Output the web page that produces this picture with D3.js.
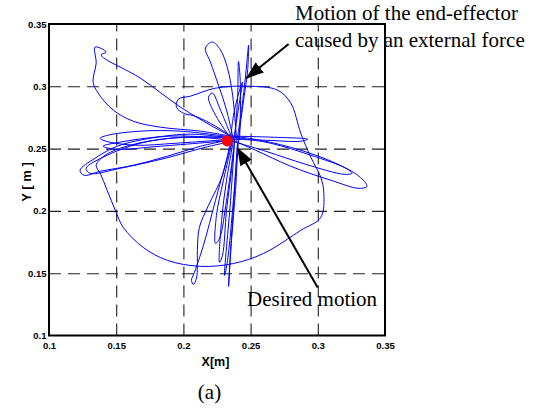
<!DOCTYPE html>
<html>
<head>
<meta charset="utf-8">
<script src="https://cdn.jsdelivr.net/npm/d3@7/dist/d3.min.js"></script>
<style>
  body { margin: 0; background: #fff; }
  svg { display: block; }
</style>
</head>
<body>
<div id="chart"></div>
<script>
// Axis ticks
const xTicks = [0.1, 0.15, 0.2, 0.25, 0.3, 0.35];
const yTicks = [0.1, 0.15, 0.2, 0.25, 0.3, 0.35];
const xTickLabels = ['0.1', '0.15', '0.2', '0.25', '0.3', '0.35'];
const yTickLabels = ['0.1', '0.15', '0.2', '0.25', '0.3', '0.35'];

const bigLoop = [
  [0.2366, 0.2592], [0.2239, 0.2680], [0.2089, 0.2760], [0.2000, 0.2784], [0.1948, 0.2833],
  [0.1963, 0.2897], [0.2052, 0.2921], [0.2239, 0.2985], [0.2478, 0.3001], [0.2701, 0.2969],
  [0.2799, 0.2865], [0.2873, 0.2624], [0.2948, 0.2431], [0.3022, 0.2270], [0.3045, 0.2141],
  [0.3022, 0.1948], [0.2873, 0.1844], [0.2597, 0.1659], [0.2373, 0.1578], [0.2127, 0.1555],
  [0.1881, 0.1603], [0.1701, 0.1707], [0.1552, 0.1868], [0.1493, 0.2005], [0.1433, 0.2165],
  [0.1381, 0.2302], [0.1351, 0.2366], [0.1418, 0.2447], [0.1604, 0.2527], [0.1903, 0.2583],
  [0.2351, 0.2592]
];
const topLeftLoop = [
  [0.2351, 0.2600], [0.2127, 0.2640], [0.1828, 0.2672], [0.1627, 0.2720], [0.1478, 0.2809],
  [0.1366, 0.2945], [0.1328, 0.3034], [0.1351, 0.3186], [0.1343, 0.3315], [0.1425, 0.3275],
  [0.1388, 0.3251], [0.1679, 0.3066], [0.1978, 0.2833], [0.2201, 0.2688], [0.2366, 0.2592]
];
const leftLoopA = [
  [0.2366, 0.2583], [0.2052, 0.2616], [0.1754, 0.2583], [0.1507, 0.2519], [0.1343, 0.2423],
  [0.1231, 0.2326], [0.1261, 0.2286], [0.1381, 0.2318], [0.1627, 0.2366], [0.1881, 0.2439],
  [0.2127, 0.2519], [0.2366, 0.2575]
];
const leftLoopB = [
  [0.2366, 0.2567], [0.2015, 0.2592], [0.1679, 0.2543], [0.1418, 0.2439], [0.1276, 0.2342],
  [0.1306, 0.2302], [0.1530, 0.2342], [0.1866, 0.2423], [0.2164, 0.2511], [0.2366, 0.2559]
];
const leftLoopC = [
  [0.2366, 0.2592], [0.1978, 0.2640], [0.1679, 0.2640], [0.1440, 0.2608], [0.1381, 0.2583],
  [0.1425, 0.2559], [0.1642, 0.2527], [0.1940, 0.2543], [0.2366, 0.2575]
];
const leftLoopD = [
  [0.2366, 0.2583], [0.1903, 0.2600], [0.1567, 0.2559], [0.1403, 0.2519], [0.1493, 0.2495],
  [0.1828, 0.2519], [0.2366, 0.2567]
];
const rightLobeA = [
  [0.2366, 0.2600], [0.2575, 0.2567], [0.2873, 0.2487], [0.3134, 0.2382], [0.3306, 0.2278],
  [0.3366, 0.2198], [0.3306, 0.2181], [0.3097, 0.2246], [0.2799, 0.2358], [0.2537, 0.2487],
  [0.2366, 0.2567]
];
const rightLobeB = [
  [0.2366, 0.2592], [0.2649, 0.2543], [0.2948, 0.2447], [0.3209, 0.2342], [0.3254, 0.2302],
  [0.3194, 0.2294], [0.2910, 0.2374], [0.2612, 0.2479], [0.2366, 0.2559]
];
const rightLoopShort = [
  [0.2366, 0.2600], [0.2649, 0.2592], [0.2925, 0.2575], [0.2873, 0.2559], [0.2612, 0.2567],
  [0.2366, 0.2575]
];
const upperLoop = [
  [0.2373, 0.2567], [0.2321, 0.2809], [0.2261, 0.3010], [0.2201, 0.3194], [0.2164, 0.3307],
  [0.2216, 0.3355], [0.2276, 0.3291], [0.2328, 0.3146], [0.2366, 0.2929], [0.2396, 0.2567]
];
const spike = [
  [0.2396, 0.2551], [0.2433, 0.2809], [0.2463, 0.3090], [0.2485, 0.3331], [0.2478, 0.3130],
  [0.2448, 0.2889], [0.2410, 0.2567], [0.2388, 0.2165], [0.2358, 0.1763], [0.2336, 0.1394],
  [0.2351, 0.1683], [0.2381, 0.2165], [0.2403, 0.2527]
];
const hookStrand = [
  [0.2351, 0.2567], [0.2291, 0.2286], [0.2187, 0.2045], [0.2119, 0.1868], [0.2104, 0.1683],
  [0.2104, 0.1563], [0.2097, 0.1458], [0.2075, 0.1410], [0.2060, 0.1442], [0.2082, 0.1506],
  [0.2149, 0.1723], [0.2239, 0.2085], [0.2321, 0.2407], [0.2366, 0.2567]
];
const lowerStrandA = [
  [0.2373, 0.2567], [0.2321, 0.2246], [0.2284, 0.1924], [0.2269, 0.1587], [0.2291, 0.1643],
  [0.2321, 0.2005], [0.2358, 0.2326], [0.2381, 0.2567]
];
const lowerStrandB = [
  [0.2366, 0.2567], [0.2298, 0.2246], [0.2246, 0.1964], [0.2239, 0.1739], [0.2269, 0.1780],
  [0.2321, 0.2085], [0.2373, 0.2487]
];
const lowerStrandC = [
  [0.2381, 0.2567], [0.2351, 0.2085], [0.2306, 0.1482], [0.2328, 0.1600], [0.2373, 0.2100],
  [0.2403, 0.2551]
];
const upperStrandA = [
  [0.2351, 0.2567], [0.2373, 0.2768], [0.2418, 0.2969], [0.2440, 0.3034], [0.2425, 0.2929],
  [0.2396, 0.2728], [0.2373, 0.2551]
];
const upperStrandB = [
  [0.2351, 0.2583], [0.2239, 0.2768], [0.2187, 0.2913], [0.2216, 0.2945], [0.2276, 0.2809],
  [0.2358, 0.2592]
];
const upperStrandC = [
  [0.2381, 0.2567], [0.2403, 0.2900], [0.2410, 0.3200], [0.2425, 0.3000], [0.2418, 0.2567]
];
const trajectory = [
  bigLoop, topLeftLoop, leftLoopA, leftLoopB, leftLoopC, leftLoopD,
  rightLobeA, rightLobeB, rightLoopShort, upperLoop, spike, hookStrand,
  lowerStrandA, lowerStrandB, lowerStrandC, upperStrandA, upperStrandB, upperStrandC
];

// Desired position
const desired = [0.2326, 0.2562];

// Annotation arrows: [tail, tip] in data units
const arrows = [
  {from: [0.2783, 0.3339], to: [0.2470, 0.3066]},
  {from: [0.2999, 0.1385], to: [0.2403, 0.2503]}
];

const width = 543, height = 411;
const margin = {left: 49, top: 24, right: 158, bottom: 75.5};
const plotW = width - margin.left - margin.right;
const plotH = height - margin.top - margin.bottom;

const sans = '"Liberation Sans", Arial, Helvetica, sans-serif';
const serif = '"Liberation Serif", "Times New Roman", Times, serif';

const svg = d3.select('#chart').append('svg')
  .attr('width', width)
  .attr('height', height);

const x = d3.scaleLinear().domain([0.1, 0.35]).range([margin.left, margin.left + plotW]);
const y = d3.scaleLinear().domain([0.1, 0.35]).range([margin.top + plotH, margin.top]);

// Dashed grid
svg.append('g')
  .attr('transform', `translate(0,${margin.top + plotH})`)
  .call(d3.axisBottom(x).tickValues(xTicks.slice(1, -1)).tickSize(-plotH).tickFormat(''))
  .call(g => g.select('.domain').remove())
  .selectAll('line')
  .attr('stroke', '#222')
  .attr('stroke-width', 1.1)
  .attr('stroke-dasharray', '12,7');

svg.append('g')
  .attr('transform', `translate(${margin.left},0)`)
  .call(d3.axisLeft(y).tickValues(yTicks.slice(1, -1)).tickSize(-plotW).tickFormat(''))
  .call(g => g.select('.domain').remove())
  .selectAll('line')
  .attr('stroke', '#222')
  .attr('stroke-width', 1.1)
  .attr('stroke-dasharray', '12,7');

// Trajectory
const line = d3.line()
  .x(d => x(d[0]))
  .y(d => y(d[1]))
  .curve(d3.curveCatmullRom.alpha(0.5));

svg.append('g')
  .selectAll('path')
  .data(trajectory)
  .enter()
  .append('path')
  .attr('d', line)
  .attr('fill', 'none')
  .attr('stroke', '#0000ff')
  .attr('stroke-width', 1);

// Desired point
svg.append('circle')
  .attr('cx', x(desired[0]))
  .attr('cy', y(desired[1]))
  .attr('r', 5.6)
  .attr('fill', '#ff0000');

// Axes with tick labels
svg.append('g')
  .attr('transform', `translate(0,${margin.top + plotH})`)
  .call(d3.axisBottom(x).tickValues(xTicks).tickSize(0).tickPadding(7)
    .tickFormat((d, i) => xTickLabels[i]))
  .call(g => g.select('.domain').remove())
  .call(g => g.attr('font-family', sans).attr('font-size', 9.5).attr('font-weight', 'bold'))
  .selectAll('text')
  .attr('fill', '#000');

svg.append('g')
  .attr('transform', `translate(${margin.left},0)`)
  .call(d3.axisLeft(y).tickValues(yTicks).tickSize(0).tickPadding(2.5)
    .tickFormat((d, i) => yTickLabels[i]))
  .call(g => g.select('.domain').remove())
  .call(g => g.attr('font-family', sans).attr('font-size', 9.5).attr('font-weight', 'bold'))
  .selectAll('text')
  .attr('fill', '#000');

// Frame
svg.append('rect')
  .attr('x', margin.left)
  .attr('y', margin.top)
  .attr('width', plotW)
  .attr('height', plotH)
  .attr('fill', 'none')
  .attr('stroke', '#000')
  .attr('stroke-width', 2);

// Axis labels
svg.append('text')
  .attr('x', 215.5)
  .attr('y', 366)
  .attr('text-anchor', 'middle')
  .attr('font-family', sans)
  .attr('font-size', 12.5)
  .attr('font-weight', 'bold')
  .text('X[m]');

svg.append('text')
  .attr('transform', 'translate(30.5,182)rotate(-90)')
  .attr('text-anchor', 'middle')
  .attr('font-family', sans)
  .attr('font-size', 13)
  .attr('font-weight', 'bold')
  .text('Y [ m ]');

// Annotations
const notes = [
  {text: 'Motion of the end-effector', x: 295, y: 20, anchor: 'start'},
  {text: 'caused by an external force', x: 295, y: 47, anchor: 'start'},
  {text: 'Desired motion', x: 247, y: 306, anchor: 'start'},
  {text: '(a)', x: 209.5, y: 399, anchor: 'middle'}
];
svg.append('g')
  .attr('font-family', serif)
  .attr('font-size', 21)
  .selectAll('text')
  .data(notes)
  .enter()
  .append('text')
  .attr('x', d => d.x)
  .attr('y', d => d.y)
  .attr('text-anchor', d => d.anchor)
  .text(d => d.text);

svg.append('defs').append('marker')
  .attr('id', 'head')
  .attr('markerUnits', 'userSpaceOnUse')
  .attr('markerWidth', 18)
  .attr('markerHeight', 13)
  .attr('refX', 17)
  .attr('refY', 6.5)
  .attr('orient', 'auto')
  .append('path')
  .attr('d', 'M0,0L18,6.5L0,13Z')
  .attr('fill', '#000');

svg.append('g')
  .selectAll('line')
  .data(arrows)
  .enter()
  .append('line')
  .attr('x1', d => x(d.from[0]))
  .attr('y1', d => y(d.from[1]))
  .attr('x2', d => x(d.to[0]))
  .attr('y2', d => y(d.to[1]))
  .attr('stroke', '#000')
  .attr('stroke-width', 2)
  .attr('marker-end', 'url(#head)');
</script>
</body>
</html>
